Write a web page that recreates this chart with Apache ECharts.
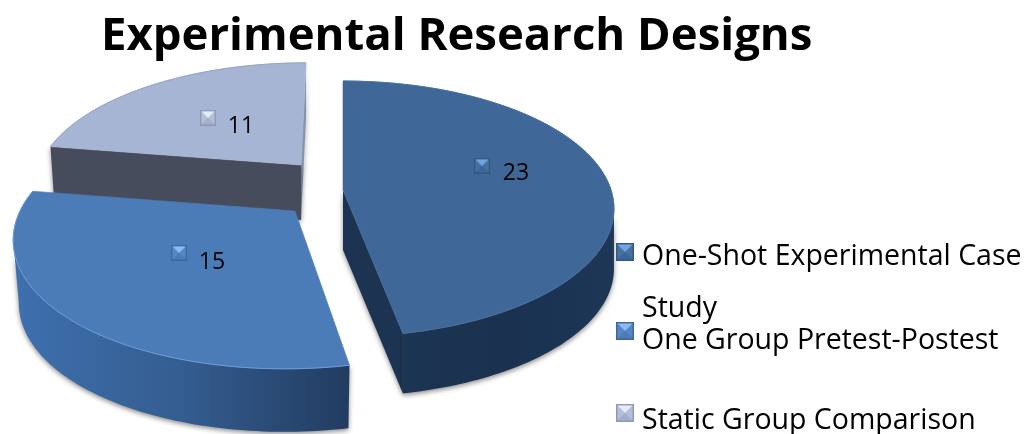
<!DOCTYPE html>
<html><head><meta charset="utf-8">
<style>html,body{margin:0;padding:0;background:#fff}#c{width:1029px;height:434px}</style>
<script src="https://cdn.jsdelivr.net/npm/echarts@6/dist/echarts.min.js"></script>
</head><body><div id="c"></div>
<script>
const titleText = 'Experimental Research Designs';
const categories = ['One-Shot Experimental Case Study', 'One Group Pretest-Postest', 'Static Group Comparison'];
const values = [23, 15, 11];

const geometry = [
  {ax:343, ay:190, R:268, Ry:125, k:0.147, shear:0,    depth:60, bottom:1,     z:3,
   cuts:[{at:'end',fill:'#1c3452'}],
   top:'#3f6797', wallStops:['#1e3757','#1a3150','#1c3552'], rim:'#44709f', marker:[482,166], label:[516,173]},
  {ax:295, ay:211, R:275, Ry:128, k:0.189, shear:0.065, depth:63, bottom:0.98,  z:2,
   cuts:[],
   top:'#4c7cb8', wallStops:['#223c60','#345d90','#3e70ae'], rim:'#6b9bd6', marker:[179,253], label:[212,262]},
  {ax:301, ay:165, R:261, Ry:118, k:0.155, shear:0.05, depth:55, bottom:0.985, z:1,
   cuts:[{at:'end',fill:'#8793ab'},{at:'start',fill:'#474c5c'}],
   top:'#a6b5d3', wallStops:null, rim:'#94a2bf', marker:[208,118], label:[241,126]}
];
const markerColors = [
  {top:'#74a3e2', bottom:'#3a659c', side:'#47729f', edge:'#33577f'},
  {top:'#8cbaf5', bottom:'#4a7ab8', side:'#5686c4', edge:'#3f6796'},
  {top:'#e6ebf6', bottom:'#a3afc8', side:'#b4c0da', edge:'#8e9ab2'}
];
const font = '"Open Sans", "Noto Sans", sans-serif';

function bevel(c, extra){
  const n=72, b=n*0.08, cv=document.createElement('canvas'); cv.width=n; cv.height=n+(extra||0)*4;
  const x=cv.getContext('2d');
  x.fillStyle=c.edge; x.fillRect(0,0,n,n);
  const m=n/2;
  const tri=(col,p)=>{x.fillStyle=col;x.beginPath();x.moveTo(p[0],p[1]);x.lineTo(p[2],p[3]);x.lineTo(m,m);x.closePath();x.fill();};
  tri(c.side,[b,b,b,n-b]); tri(c.side,[n-b,b,n-b,n-b]); tri(c.top,[b,b,n-b,b]); tri(c.bottom,[b,n-b,n-b,n-b]);
  return cv.toDataURL();
}
const markerImages = markerColors.map(c=>bevel(c,0));
const legendDrop = [9,20,16];
const legendImages = markerColors.map((c,i)=>bevel(c,legendDrop[i]));
const total = values.reduce((a,b)=>a+b,0);
const starts = values.map((_,i)=>values.slice(0,i).reduce((a,b)=>a+b,0)/total*Math.PI*2);

function proj(g,t,scale,dy){
  const c=Math.cos(t), s=Math.sin(t), w=1+g.k*c;
  const xp=g.R*s/w, yp=-g.Ry*c/w;
  return [g.ax+scale*(xp-g.shear*yp), g.ay+yp+dy];
}
function renderSlice(i){
  return function(params, api){
    const g=geometry[i], v=api.value(0);
    const a0=starts[i], a1=a0+v/total*Math.PI*2;
    const n=Math.ceil((a1-a0)/0.02), ts=[];
    for(let j=0;j<=n;j++)ts.push(a0+(a1-a0)*j/n);
    const children=[];
    const shadow={shadowBlur:5,shadowColor:'rgba(0,0,0,0.45)',shadowOffsetY:2};
    const apex=[g.ax,g.ay], apexB=[g.ax,g.ay+g.depth];
    g.cuts.forEach(function(cut){
      const t=cut.at==='end'?a1:a0, p=proj(g,t,1,0), q=proj(g,t,g.bottom,g.depth);
      children.push({type:'polygon',shape:{points:[apex,p,q,apexB]},style:Object.assign({fill:cut.fill},shadow)});
    });
    if(g.wallStops){
      const front=ts.filter((t,j)=>(j<n&&proj(g,ts[j+1],1,0)[0]<proj(g,t,1,0)[0])||(j>0&&proj(g,t,1,0)[0]<proj(g,ts[j-1],1,0)[0]));
      const tp=front.map(t=>proj(g,t,1,0)), bt=front.map(t=>proj(g,t,g.bottom,g.depth)).reverse();
      children.push({type:'polygon',shape:{points:tp.concat(bt)},style:Object.assign({
        fill:new echarts.graphic.LinearGradient(0,0,1,0,[
          {offset:0,color:g.wallStops[2]},{offset:0.5,color:g.wallStops[1]},{offset:1,color:g.wallStops[0]}])},shadow)});
    }
    const rimPts=ts.map(t=>proj(g,t,1,0));
    children.push({type:'polygon',shape:{points:[apex].concat(rimPts)},style:{fill:g.top,stroke:g.top,lineWidth:0.6}});
    children.push({type:'polyline',shape:{points:rimPts},style:{fill:'none',stroke:g.rim,lineWidth:1}});
    children.push({type:'image',style:{image:markerImages[i],x:g.marker[0]-8,y:g.marker[1]-8,width:16,height:16}});
    children.push({type:'text',style:{text:String(v),x:g.label[0],y:g.label[1],align:'center',verticalAlign:'middle',
      font:'23px '+font,fill:'#000'}});
    return {type:'group',children:children};
  };
}
const legendTops=[242,322,404];
const chart=echarts.init(document.getElementById('c'),null,{renderer:'canvas'});
chart.setOption({
  animation:false,
  title:{text:titleText,left:96,top:9,textStyle:{fontFamily:font,fontWeight:'bold',fontSize:45.5,color:'#000'}},
  legend:categories.map((n,i)=>({
    selectedMode:false,orient:'vertical',left:616,top:legendTops[i],itemWidth:18,itemHeight:18+legendDrop[i],itemGap:0,padding:0,
    data:[{name:n,icon:'image://'+legendImages[i]}],
    formatter:function(s){return s.replace(' Study','');},
    textStyle:{fontFamily:font,fontSize:28.5,color:'#000',padding:[0,0,0,3]}
  })),
  graphic:[{type:'text',left:642,top:294,style:{text:'Study',font:'28.5px '+font,fill:'#000'}}],
  series:categories.map((n,i)=>({
    type:'custom',name:n,coordinateSystem:'none',z:geometry[i].z,
    itemStyle:{color:geometry[i].top},
    renderItem:renderSlice(i),
    data:[[values[i]]],silent:true
  }))
});
</script></body></html>
